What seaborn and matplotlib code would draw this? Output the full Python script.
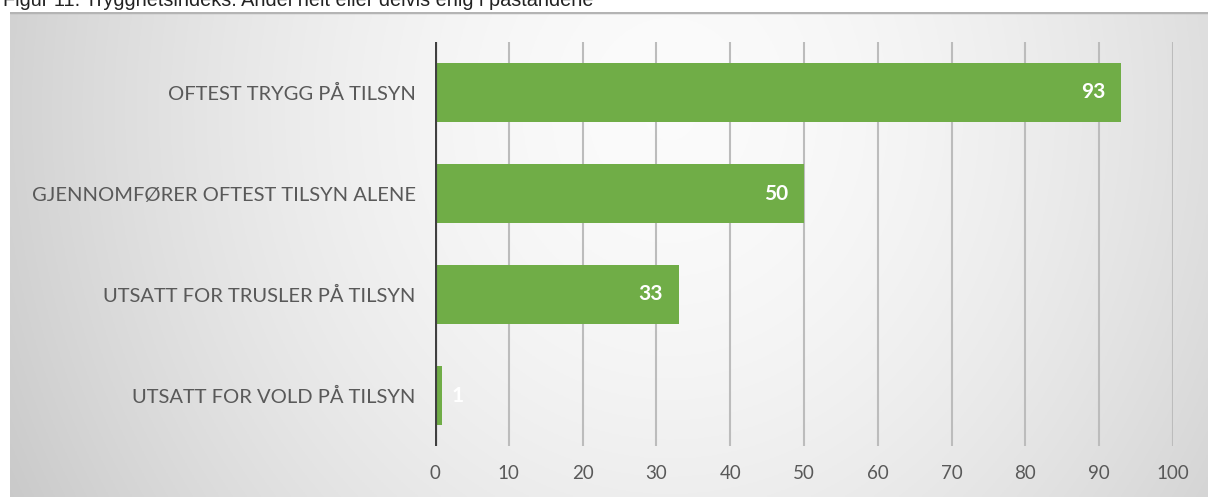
import numpy as np
import pandas as pd
import matplotlib
matplotlib.use("Agg")
import matplotlib.pyplot as plt
import seaborn as sns

categories = ["OFTEST TRYGG PÅ TILSYN", "GJENNOMFØRER OFTEST TILSYN ALENE",
              "UTSATT FOR TRUSLER PÅ TILSYN", "UTSATT FOR VOLD PÅ TILSYN"]
values = [93, 50, 33, 1]
xticks = [0, 10, 20, 30, 40, 50, 60, 70, 80, 90, 100]
title = "Figur 11. Trygghetsindeks. Andel helt eller delvis enig i påstandene"

sns.set_theme(style="white")
plt.rcParams['font.family'] = ['Lato', 'DejaVu Sans']

W, H = 1208, 497
fig = plt.figure(figsize=(W / 100, H / 100), dpi=100)

# background panel with gradient
px0, py0 = 10, 12
bg = fig.add_axes([px0 / W, 0, 1 - px0 / W, 1 - py0 / H])
bg.set_axis_off()
ny, nx = 200, 500
yy, xx = np.mgrid[0:ny, 0:nx]
cx, cy = 0.55 * nx, 0.2 * ny
d = np.sqrt(((xx - cx) / (0.72 * nx)) ** 2 + ((yy - cy) / (2.0 * ny)) ** 2)
d = np.clip(d, 0, 1)
grey = 0.985 - 0.25 * d ** 1.7
bg.imshow(np.dstack([grey, grey, grey]), aspect='auto', extent=[0, 1, 0, 1], origin='upper')
bg.set_xlim(0, 1)
bg.set_ylim(0, 1)
bg.axhline(1, color="#b4b4b4", lw=2.5)

fig.text(3 / W, 1 - 6 / H, title, fontsize=14.3, color="#222222", va='baseline',
         ha='left', family=['Liberation Sans', 'DejaVu Sans'])

ax = fig.add_axes([435 / W, 1 - 446 / H, (1173 - 435) / W, (446 - 42) / H])
ax.patch.set_alpha(0)
df = pd.DataFrame({"cat": categories, "val": values})
sns.barplot(data=df, x="val", y="cat", orient="h", color="#70AD47",
            saturation=1, width=0.58, linewidth=0, ax=ax)

ax.set_xlim(0, 100)
ax.set_ylim(3.5, -0.5)
ax.set_xticks(xticks)
ax.set_xticklabels([str(t) for t in xticks])
ax.set_xlabel("")
ax.set_ylabel("")
for t in xticks[1:]:
    ax.axvline(t, color="#bcbcbc", lw=1.5, zorder=0)
ax.axvline(0, color="#404040", lw=3, zorder=3)
for s in ax.spines.values():
    s.set_visible(False)
ax.tick_params(axis='x', length=0, pad=14, labelsize=13.5, labelcolor="#595959")
ax.tick_params(axis='y', length=0, pad=14, labelsize=14.5, labelcolor="#595959")

for i, v in enumerate(values):
    if v >= 5:
        ax.text(v - 2.2, i, str(v), ha='right', va='center', color='white',
                fontsize=15, fontweight='bold')
    else:
        ax.text(v + 1.2, i, str(v), ha='left', va='center', color='white',
                fontsize=15, fontweight='bold')

fig.savefig("out.png", dpi=100)
